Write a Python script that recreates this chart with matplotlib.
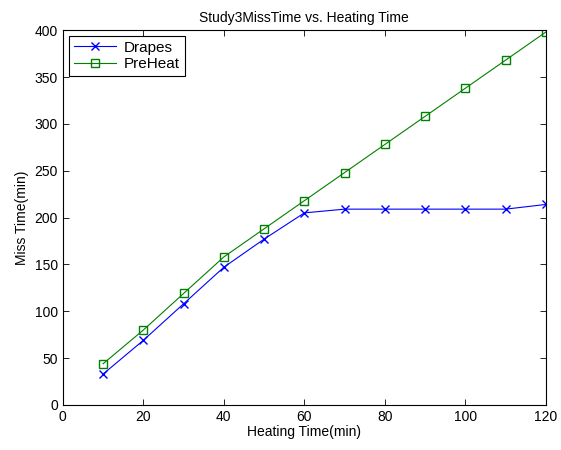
import matplotlib
matplotlib.use("Agg")
import matplotlib.pyplot as plt

heating_time = [10, 20, 30, 40, 50, 60, 70, 80, 90, 100, 110, 120]
drapes = [33, 69, 108, 147, 177, 205, 209, 209, 209, 209, 209, 214]
preheat = [44, 80, 119, 158, 188, 218, 248, 278, 308, 338, 368, 398]

plt.rcParams['font.family'] = ['Liberation Sans', 'DejaVu Sans']
plt.rcParams['font.size'] = 10

fig = plt.figure(figsize=(5.61, 4.5), dpi=100)
ax = fig.add_axes([0.112, 0.1, 0.861, 0.833])

ax.plot(heating_time, drapes, color='#0000ff', marker='x', markersize=5.5, linewidth=0.8, label='Drapes')
ax.plot(heating_time, preheat, color='#008000', marker='s', markersize=6, markerfacecolor='none', linewidth=0.8, label='PreHeat')

ax.set_xlim(0, 120)
ax.set_ylim(0, 400)
ax.set_xticks(range(0, 121, 20))
ax.set_yticks(range(0, 401, 50))
ax.tick_params(direction='in', top=True, right=True, length=4, width=0.6)
for s in ax.spines.values():
    s.set_linewidth(0.8)

ax.set_xlabel('Heating Time(min)', labelpad=1)
ax.set_ylabel('Miss Time(min)', labelpad=4)
ax.set_title('Study3MissTime vs. Heating Time', fontsize=10, pad=6)

leg = ax.legend(loc='upper left', fancybox=False, edgecolor='black', framealpha=1,
                borderaxespad=0.4, handlelength=2.8, handletextpad=0.5, borderpad=0.3,
                labelspacing=0.15, prop={'size': 11})
leg.get_frame().set_linewidth(0.8)

fig.savefig('out.png', dpi=100)
